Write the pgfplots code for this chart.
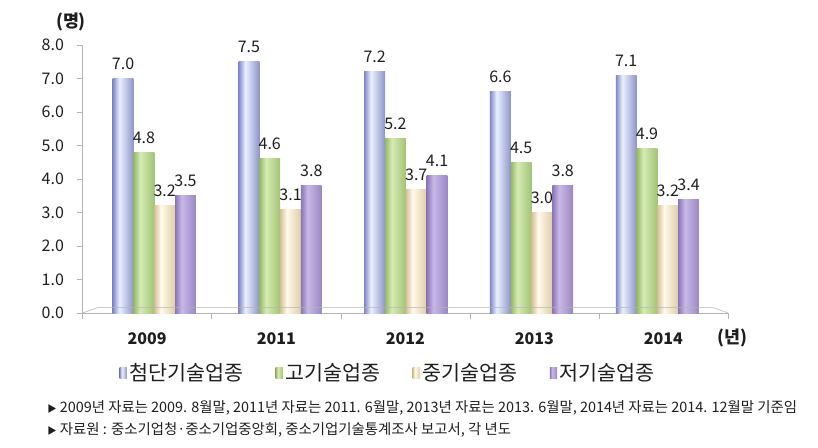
\documentclass[border=0pt]{standalone}
\usepackage{fontspec}
\setmainfont{Noto Sans CJK KR}
\usepackage{pgfplots}
\pgfplotsset{compat=1.18}
\definecolor{bL}{HTML}{8088C8}\definecolor{bH}{HTML}{EAF0FF}\definecolor{bR}{HTML}{8E95C8}
\definecolor{gL}{HTML}{95B964}\definecolor{gH}{HTML}{D6EBB4}\definecolor{gR}{HTML}{A2C474}
\definecolor{cL}{HTML}{D6C098}\definecolor{cH}{HTML}{FFFAEC}\definecolor{cR}{HTML}{DFCDA6}
\definecolor{pL}{HTML}{8C76B8}\definecolor{pH}{HTML}{C8B8E6}\definecolor{pR}{HTML}{9A87C4}
\definecolor{axgray}{HTML}{B4B4B4}
\definecolor{txt}{HTML}{1E1E1E}
\pgfdeclarehorizontalshading{shB}{100bp}{color(0bp)=(bL); color(25bp)=(bL); color(41bp)=(bH); color(75bp)=(bR); color(100bp)=(bR)}
\pgfdeclarehorizontalshading{shG}{100bp}{color(0bp)=(gL); color(25bp)=(gL); color(41bp)=(gH); color(75bp)=(gR); color(100bp)=(gR)}
\pgfdeclarehorizontalshading{shC}{100bp}{color(0bp)=(cL); color(25bp)=(cL); color(41bp)=(cH); color(75bp)=(cR); color(100bp)=(cR)}
\pgfdeclarehorizontalshading{shP}{100bp}{color(0bp)=(pL); color(25bp)=(pL); color(41bp)=(pH); color(75bp)=(pR); color(100bp)=(pR)}
\pgfplotsset{
  sB/.style={draw=none, shade, shading=shB, bar shift=-23.4pt, forget plot},
  sG/.style={draw=none, shade, shading=shG, bar shift=-7.8pt, forget plot},
  sC/.style={draw=none, shade, shading=shC, bar shift=7.8pt, forget plot},
  sP/.style={draw=none, shade, shading=shP, bar shift=23.4pt, forget plot},
}
\begin{document}
\begin{tikzpicture}[x=1pt,y=1pt]
\path[use as bounding box] (0,0) rectangle (613.5,335.25);
\begin{axis}[
  at={(62pt,100.5pt)}, anchor=south west,
  scale only axis, width=484pt, height=201pt,
  xmin=-0.5, xmax=4.5, ymin=0, ymax=8,
  axis x line*=bottom, axis y line*=left,
  axis line style={draw=axgray, -},
  tick align=outside, major tick length=4.5pt,
  tick style={draw=axgray, thin},
  xtick={-0.5,0.5,1.5,2.5,3.5,4.5}, xticklabels={},
  extra x ticks={0,1,2,3,4},
  extra x tick labels={2009,2011,2012,2013,2014},
  extra x tick style={major tick length=0pt},
  xticklabel style={font=\fontsize{12}{12}\selectfont\bfseries, text=txt, yshift=-11.5pt},
  ytick={0,1,...,8},
  yticklabel style={font=\fontsize{12}{12}\selectfont, text=txt, xshift=-6pt},
  /pgf/number format/.cd, fixed, fixed zerofill, precision=1, assume math mode=true,
  /pgfplots/.cd,
  ybar=0pt, bar width=15.6pt,
  nodes near coords,
  every node near coord/.append style={font=\fontsize{12}{12}\selectfont, text=txt, yshift=3pt,
     /pgf/number format/.cd, fixed, fixed zerofill, precision=1, assume math mode=true},
  legend columns=4,
  legend style={at={(0.474,-0.224)}, anchor=center, draw=none, fill=none,
     font=\fontsize{15.5}{15.5}\selectfont, text=txt,
     /tikz/every even column/.append style={column sep=22pt}},
  legend image code/.code={\path[#1] (0pt,-4pt) rectangle (5.5pt,4pt);},
  clip=false,
]
% 첨단기술업종
\addplot[sB] coordinates {(0.055,7.0)};
\addplot[sB] coordinates {(1.03,7.5)};
\addplot[sB] coordinates {(2.004,7.2)};
\addplot[sB] coordinates {(2.978,6.6)};
\addplot[sB] coordinates {(3.953,7.1)};
% 고기술업종
\addplot[sG] coordinates {(0.055,4.8)};
\addplot[sG] coordinates {(1.03,4.6)};
\addplot[sG] coordinates {(2.004,5.2)};
\addplot[sG] coordinates {(2.978,4.5)};
\addplot[sG] coordinates {(3.953,4.9)};
% 중기술업종
\addplot[sC] coordinates {(0.055,3.2)};
\addplot[sC] coordinates {(1.03,3.1)};
\addplot[sC] coordinates {(2.004,3.7)};
\addplot[sC] coordinates {(2.978,3.0)};
\addplot[sC] coordinates {(3.953,3.2)};
% 저기술업종
\addplot[sP] coordinates {(0.055,3.5)};
\addplot[sP] coordinates {(1.03,3.8)};
\addplot[sP] coordinates {(2.004,4.1)};
\addplot[sP] coordinates {(2.978,3.8)};
\addplot[sP] coordinates {(3.953,3.4)};
\addlegendimage{draw=none, shade, shading=shB}
\addlegendimage{draw=none, shade, shading=shG}
\addlegendimage{draw=none, shade, shading=shC}
\addlegendimage{draw=none, shade, shading=shP}
\legend{첨단기술업종,고기술업종,중기술업종,저기술업종}
\draw[axgray] (axis cs:-0.5,0) -- ++(11pt,4pt) -- ([xshift=-11pt,yshift=4pt]axis cs:4.5,0) -- (axis cs:4.5,0);
\end{axis}
\node[font=\fontsize{13}{13}\selectfont\bfseries, text=txt] at (53.25,318.75) {(명)};
\node[font=\fontsize{13}{13}\selectfont\bfseries, text=txt] at (549.4,81.75) {(년)};
\node[anchor=west, inner sep=0pt, font=\fontsize{10.8}{10.8}\selectfont, text=txt] at (35.25,29) {{\fontsize{7}{7}\selectfont ▶} 2009년 자료는 2009. 8월말, 2011년 자료는 2011. 6월말, 2013년 자료는 2013. 6월말, 2014년 자료는 2014. 12월말 기준임};
\node[anchor=west, inner sep=0pt, font=\fontsize{10.8}{10.8}\selectfont, text=txt] at (35.25,12.75) {{\fontsize{7}{7}\selectfont ▶} 자료원 : 중소기업청·중소기업중앙회, 중소기업기술통계조사 보고서, 각 년도};
\end{tikzpicture}
\end{document}
